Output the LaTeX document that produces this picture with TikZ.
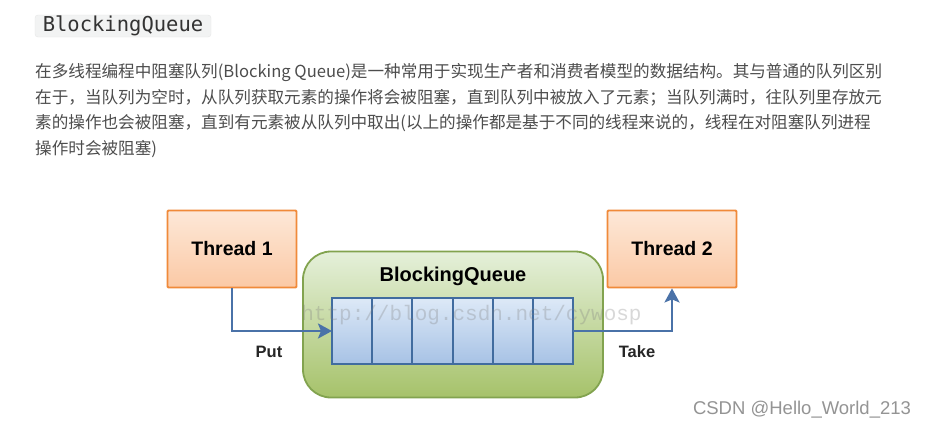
\documentclass[tikz,border=0pt]{standalone}
\usepackage{fontspec}
\setmainfont{Liberation Sans}
\setmonofont{DejaVu Sans Mono}
\newfontfamily\cjkfont{Noto Sans CJK SC}
\newfontfamily\markfont{Liberation Mono}
\usepackage{tikz}
\usetikzlibrary{matrix}
\usetikzlibrary{positioning,arrows.meta}
\definecolor{threadline}{HTML}{F08A3A}
\definecolor{threadtop}{HTML}{FDE8D8}
\definecolor{threadbot}{HTML}{FBC9A5}
\definecolor{bqline}{HTML}{82A34F}
\definecolor{bqtop}{HTML}{E5F0DA}
\definecolor{bqbot}{HTML}{A6C26A}
\definecolor{cellline}{HTML}{416C9F}
\definecolor{celltop}{HTML}{DDE9F7}
\definecolor{cellbot}{HTML}{A7C2E5}
\definecolor{flowline}{HTML}{4A72A8}
\definecolor{bodytext}{HTML}{4D4D4D}
\definecolor{codebg}{HTML}{F2F3F3}
\definecolor{codeline}{HTML}{E6E7E7}
\tikzset{
  thread/.style={draw=threadline, line width=1.8pt, rounded corners=1pt,
    top color=threadtop, bottom color=threadbot,
    minimum width=129pt, minimum height=77pt,
    font=\bfseries\fontsize{19.5}{20}\selectfont},
  queuebox/.style={draw=bqline, line width=1.8pt, rounded corners=28pt,
    top color=bqtop, bottom color=bqbot,
    minimum width=300pt, minimum height=146pt},
  cell/.style={draw=cellline, line width=2pt, top color=celltop, bottom color=cellbot,
    minimum width=40.17pt, minimum height=66pt, inner sep=0pt, outer sep=0pt},
  flow/.style={draw=flowline, line width=2.6pt,
    -{Stealth[length=14pt, width=15pt, inset=3pt]}},
  flowlabel/.style={font=\bfseries\fontsize{16.5}{17}\selectfont, text=black!85},
  paraline/.style={anchor=base west, inner sep=0pt, text=bodytext,
    font=\cjkfont\fontsize{16.6}{17}\selectfont}
}
\begin{document}
\begin{tikzpicture}[x=1pt, y=-1pt]
    \fill[white] (0,0) rectangle (928,429);
    \useasboundingbox (0,0) rectangle (928,429);
    % heading and text
    \node[fill=codebg, draw=codeline, rounded corners=3pt, inner sep=0pt,
      minimum width=176pt, minimum height=22pt, text=black!80,
      font=\ttfamily\fontsize{20.5}{21}\selectfont] (head) at (123,26) {BlockingQueue};
    \node[paraline] (line1) at (35,77) {在多线程编程中阻塞队列(Blocking Queue)是一种常用于实现生产者和消费者模型的数据结构。其与普通的队列区别};
    \node[paraline] (line2) at (35,103) {在于，当队列为空时，从队列获取元素的操作将会被阻塞，直到队列中被放入了元素；当队列满时，往队列里存放元};
    \node[paraline] (line3) at (35,128.5) {素的操作也会被阻塞，直到有元素被从队列中取出(以上的操作都是基于不同的线程来说的，线程在对阻塞队列进程};
    \node[paraline] (line4) at (35,154) {操作时会被阻塞)};
    % diagram
    \node[thread] (t1) at (232,249) {Thread 1};
    \node[thread] (t2) at (672,249) {Thread 2};
    \node[queuebox] (bq) at (453,324.5) {};
    \node[font=\bfseries\fontsize{20}{20}\selectfont] (bqname) at (453,276) {BlockingQueue};
    \matrix (queue) [matrix of nodes, nodes in empty cells, column sep=-2pt,
      nodes={cell}] at (452.5,331)
    {
      & & & & & \\
    };
    \draw[flow] (t1.south) |- (queue-1-1.west);
    \draw[flow] (queue-1-6.east) -| (t2.south);
    \node[flowlabel] (put) at (269,352) {Put};
    \node[flowlabel] (take) at (637,352) {Take};
    % watermarks
    \node[text=gray, opacity=0.3, font=\markfont\fontsize{21}{21}\selectfont] (url) at (471.5,315) {http://blog.csdn.net/cywosp};
    \node[text=black!42, font=\fontsize{18.5}{19}\selectfont] (csdn) at (802,410) {CSDN @Hello\_World\_213};
\end{tikzpicture}
\end{document}
